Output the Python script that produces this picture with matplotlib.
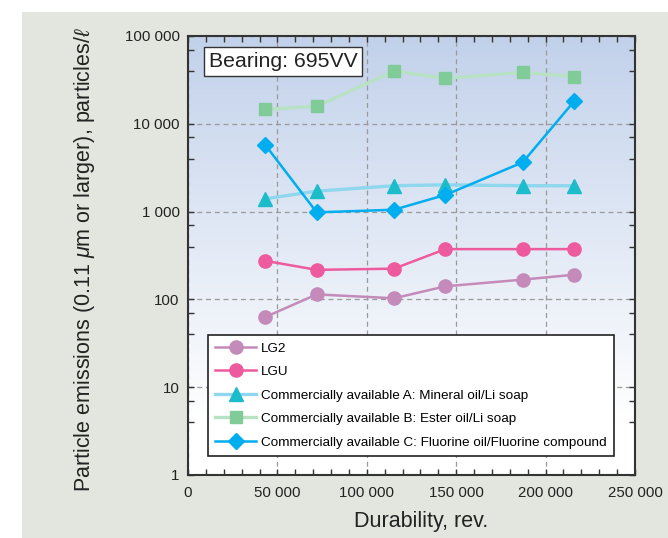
import numpy as np
import matplotlib.pyplot as plt
from matplotlib.patches import Rectangle
from matplotlib.ticker import FixedLocator, FuncFormatter, NullFormatter

plt.rcParams['font.family'] = ['Liberation Sans', 'DejaVu Sans']
plt.rcParams['mathtext.fontset'] = 'custom'
plt.rcParams['mathtext.it'] = 'Liberation Sans:italic'

# durability, rev.
durability = [43200, 72000, 115200, 144000, 187200, 216000]

# particle emissions, particles/l
lg2 = [63, 114, 103, 141, 168, 191]
lgu = [275, 217, 224, 374, 374, 374]
comm_a = [1400, 1710, 1970, 2020, 1970, 1970]
comm_b = [14600, 15800, 39800, 33000, 38400, 34500]
comm_c = [5750, 980, 1050, 1550, 3640, 18100]

names = ['LG2', 'LGU',
         'Commercially available A: Mineral oil/Li soap',
         'Commercially available B: Ester oil/Li soap',
         'Commercially available C: Fluorine oil/Fluorine compound']

xticks = [0, 50000, 100000, 150000, 200000, 250000]
yticks = [1, 10, 100, 1000, 10000, 100000]


def spaced(v, pos=None):
    return '{:,}'.format(int(round(v))).replace(',', ' ')


fig = plt.figure(figsize=(6.68, 5.38), dpi=100)
fig.patch.set_facecolor('white')
# grey panel behind the chart
fig.patches.append(Rectangle((22 / 668, 0), 1, 1 - 12 / 538, transform=fig.transFigure,
                             facecolor='#E2E6DF', edgecolor='none', zorder=-5))

ax = fig.add_axes([188 / 668, 1 - 475 / 538, 447 / 668, 439 / 538])
ax.set_yscale('log')
ax.set_xlim(0, 250000)
ax.set_ylim(1, 100000)

# blue-to-white gradient in the plot area
grad = np.linspace(0, 1, 256).reshape(-1, 1)
top = np.array([0.76, 0.82, 0.92])
alpha = np.clip(1 - grad / 0.88, 0, 1)
img = np.ones((256, 1, 3)) * (1 - alpha[..., None]) + top * alpha[..., None]
ax.imshow(img, extent=[0, 1, 0, 1], transform=ax.transAxes, aspect='auto', zorder=0)

ax.grid(True, which='major', color='#9a9a9a', linestyle=(0, (4, 3)), linewidth=0.9, zorder=1)

ax.plot(durability, lg2, color='#C48BBA', lw=1.8, marker='o', ms=9.5, mec='#C48BBA', label=names[0], zorder=3)
ax.plot(durability, lgu, color='#EE5A9E', lw=1.8, marker='o', ms=9.5, mec='#EE5A9E', label=names[1], zorder=3)
ax.plot(durability, comm_a, color='#8ED7EE', lw=2.4, marker='^', ms=9.5, mfc='#1DBCCB', mec='#1DBCCB', label=names[2], zorder=3)
ax.plot(durability, comm_b, color='#B7E2C4', lw=2.4, marker='s', ms=8, mfc='#80CB98', mec='#80CB98', label=names[3], zorder=3)
ax.plot(durability, comm_c, color='#00AEEF', lw=1.8, marker='D', ms=8, mec='#00AEEF', label=names[4], zorder=3)

ax.xaxis.set_major_locator(FixedLocator(xticks))
ax.xaxis.set_major_formatter(FuncFormatter(spaced))
ax.xaxis.set_minor_locator(FixedLocator(np.arange(0, 250001, 10000)))
ax.yaxis.set_major_locator(FixedLocator(yticks))
ax.yaxis.set_major_formatter(FuncFormatter(spaced))
ax.yaxis.set_minor_locator(FixedLocator([m * 10 ** d for d in range(5) for m in (4, 7)]))
ax.yaxis.set_minor_formatter(NullFormatter())

ax.tick_params(which='both', direction='in', top=True, right=True, length=4.5, width=1,
               color='#333333', labelsize=10.8, labelcolor='#222222')
ax.tick_params(axis='x', which='major', pad=8)
ax.tick_params(axis='y', which='major', pad=6)
for s in ax.spines.values():
    s.set_color('#333333')
    s.set_linewidth(1.5)

ax.set_xlabel('Durability, rev.', fontsize=15.5, color='#222222')
ax.xaxis.set_label_coords((421 - 188) / 447, -0.082)
ax.set_ylabel(r'Particle emissions (0.11 $\mu$m or larger), particles/$\ell$', fontsize=15.5,
              color='#222222')
ax.yaxis.set_label_coords((97 - 188) / 447, (475 - 260) / 439)

ax.text((209 - 188) / 447, (475 - 52) / 439, 'Bearing: 695VV', transform=ax.transAxes, fontsize=15.3,
        va='top', ha='left', color='#222222', zorder=5,
        bbox=dict(boxstyle='square,pad=0.22', facecolor='white', edgecolor='#333333', linewidth=1))

leg = ax.legend(loc='lower left', bbox_to_anchor=(20 / 447, 19 / 439), fontsize=9.7, frameon=True,
                fancybox=False, edgecolor='#222222', framealpha=1, handlelength=3.0,
                handletextpad=0.35, labelspacing=0.82, borderpad=0.55, borderaxespad=0)
leg.get_frame().set_linewidth(1.2)
leg.set_zorder(6)

fig.savefig('out.png', dpi=100)
